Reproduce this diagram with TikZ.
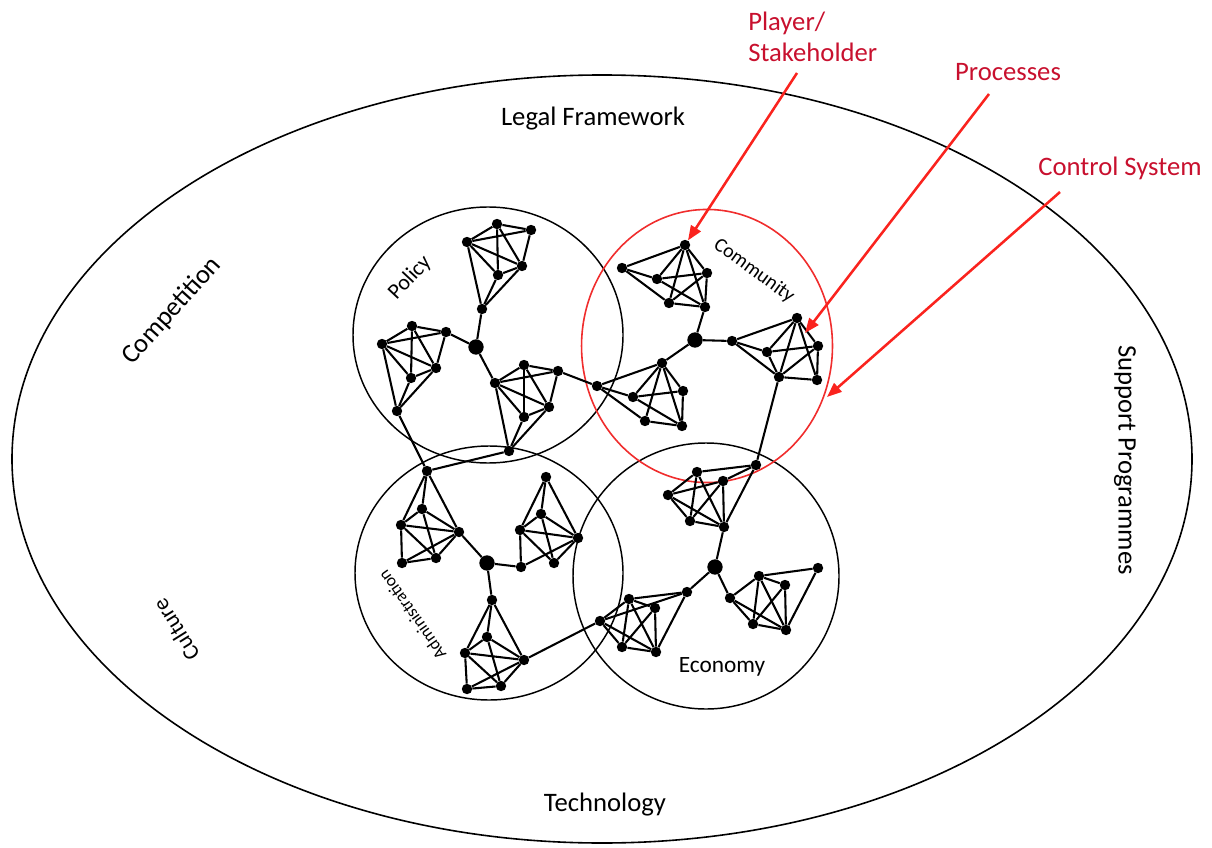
\documentclass[tikz,border=0pt]{standalone}
\usepackage{fontspec}
\setmainfont{Carlito}
\usetikzlibrary{arrows.meta}
\definecolor{lblred}{RGB}{200,16,46}
\definecolor{arrred}{RGB}{250,35,30}
\definecolor{circred}{RGB}{240,45,45}
\tikzset{
  dot/.style={circle,fill=black,inner sep=0pt,minimum size=7.8pt},
  hub/.style={circle,fill=black,inner sep=0pt,minimum size=11.5pt},
  net/.style={line width=1.55pt,black},
  ring/.style={line width=1.1pt,black},
  redring/.style={line width=1.2pt,circred},
  redarrow/.style={line width=1.9pt,arrred,-{Triangle[length=11pt,width=8.5pt]}},
  biglbl/.style={font=\fontsize{20}{23}\selectfont,inner sep=0pt},
  redlbl/.style={font=\fontsize{20}{23}\selectfont,text=lblred,inner sep=0pt},
}
\begin{document}
\begin{tikzpicture}[x=0.75pt,y=-0.75pt]
\useasboundingbox (0,0) rectangle (1212,848);
% outer ellipse and domain circles
\draw[line width=1.2pt] (602,459) ellipse [x radius=442.5pt,y radius=288pt];
\draw[ring] (488,335) ellipse [x radius=101.25pt,y radius=96pt];
\draw[ring] (489,573) ellipse [x radius=100.5pt,y radius=95.25pt];
\draw[ring] (706,576) ellipse [x radius=99.75pt,y radius=99.75pt];
\draw[redring] (707,346) ellipse [x radius=94.1pt,y radius=102.4pt];

% ---------- nodes ----------
% Policy
\node[dot] (A1) at (497,224) {}; \node[dot] (A2) at (531,230) {};
\node[dot] (A3) at (467,242) {}; \node[dot] (A4) at (522,266) {};
\node[dot] (A5) at (498,275) {}; \node[dot] (A6) at (482,309) {};
\node[hub] (P) at (476,347) {};
\node[dot] (B1) at (412,326) {}; \node[dot] (B2) at (446,332) {};
\node[dot] (B3) at (382,344) {}; \node[dot] (B4) at (436,368) {};
\node[dot] (B5) at (411,378) {}; \node[dot] (B6) at (397,411) {};
\node[dot] (C1) at (495,383) {}; \node[dot] (C2) at (524,365) {};
\node[dot] (C3) at (558,371) {}; \node[dot] (C4) at (549,407) {};
\node[dot] (C5) at (524,417) {}; \node[dot] (C6) at (509,451) {};
% Community
\node[dot] (E1) at (685,245) {}; \node[dot] (E2) at (622,268) {};
\node[dot] (E3) at (657,279) {}; \node[dot] (E4) at (707,273) {};
\node[dot] (E5) at (669,303) {}; \node[dot] (E6) at (705,307) {};
\node[hub] (Q) at (695,340) {};
\node[dot] (F1) at (732,341) {}; \node[dot] (F2) at (797,318) {};
\node[dot] (F3) at (767,352) {}; \node[dot] (F4) at (818,346) {};
\node[dot] (F5) at (779,377) {}; \node[dot] (F6) at (817,380) {};
\node[dot] (G1) at (662,363) {}; \node[dot] (G2) at (597,386) {};
\node[dot] (G3) at (633,397) {}; \node[dot] (G4) at (683,391) {};
\node[dot] (G5) at (645,421) {}; \node[dot] (G6) at (682,426) {};
% Administration
\node[dot] (D1) at (427,471) {}; \node[dot] (D2) at (422,509) {};
\node[dot] (D3) at (401,525) {}; \node[dot] (D4) at (459,532) {};
\node[dot] (D5) at (402,563) {}; \node[dot] (D6) at (436,558) {};
\node[hub] (R) at (487,563) {};
\node[dot] (H1) at (546,477) {}; \node[dot] (H2) at (541,514) {};
\node[dot] (H3) at (520,530) {}; \node[dot] (H4) at (578,538) {};
\node[dot] (H5) at (521,567) {}; \node[dot] (H6) at (554,563) {};
\node[dot] (I1) at (492,600) {}; \node[dot] (I2) at (487,637) {};
\node[dot] (I3) at (465,653) {}; \node[dot] (I4) at (524,660) {};
\node[dot] (I5) at (467,689) {}; \node[dot] (I6) at (501,686) {};
% Economy
\node[dot] (J1) at (756,465) {}; \node[dot] (J2) at (697,472) {};
\node[dot] (J3) at (723,481) {}; \node[dot] (J4) at (668,495) {};
\node[dot] (J5) at (690,521) {}; \node[dot] (J6) at (724,527) {};
\node[hub] (S) at (715,567) {};
\node[dot] (K1) at (730,598) {}; \node[dot] (K2) at (759,576) {};
\node[dot] (K3) at (785,585) {}; \node[dot] (K4) at (818,568) {};
\node[dot] (K5) at (753,624) {}; \node[dot] (K6) at (786,630) {};
\node[dot] (L1) at (687,592) {}; \node[dot] (L2) at (629,599) {};
\node[dot] (L3) at (655,608) {}; \node[dot] (L4) at (600,621) {};
\node[dot] (L5) at (622,647) {}; \node[dot] (L6) at (656,652) {};

% ---------- edges ----------
\foreach \a/\b in {
 A3/A1,A1/A2,A3/A2,A2/A4,A1/A4,A1/A5,A3/A4,A3/A5,A5/A4,A3/A6,A4/A6,A5/A6,
 P/A6,P/B2,P/C1,
 B3/B1,B1/B2,B3/B2,B1/B4,B1/B5,B2/B4,B3/B4,B3/B5,B5/B4,B3/B6,B4/B6,B5/B6,
 C1/C2,C2/C3,C1/C3,C2/C4,C2/C5,C3/C4,C1/C4,C1/C5,C5/C4,C1/C6,C4/C6,C5/C6,
 C3/G2,B6/D1,C6/D1,
 E2/E1,E2/E5,E2/E3,E1/E3,E1/E4,E1/E5,E1/E6,E3/E4,E3/E6,E4/E6,E5/E6,E4/E5,
 Q/E6,Q/F1,Q/G1,
 F1/F2,F1/F5,F1/F3,F2/F3,F2/F4,F2/F5,F2/F6,F3/F4,F3/F5,F4/F6,F5/F6,F5/F4,
 F5/J1,
 G2/G1,G2/G3,G2/G5,G1/G3,G1/G4,G1/G5,G1/G6,G3/G4,G3/G6,G4/G6,G5/G6,
 D1/D3,D1/D2,D1/D4,D2/D3,D2/D4,D2/D6,D3/D4,D3/D5,D3/D6,D5/D6,D5/D4,D6/D4,
 R/D4,R/H5,R/I1,
 H1/H3,H1/H2,H1/H4,H2/H3,H2/H4,H2/H6,H3/H4,H3/H5,H3/H6,H5/H4,H6/H4,
 I1/I3,I1/I2,I1/I4,I2/I3,I2/I4,I2/I6,I3/I4,I3/I5,I3/I6,I5/I6,I6/I4,I5/I4,
 I4/L4,
 J2/J1,J3/J1,J2/J4,J2/J5,J2/J6,J4/J3,J4/J5,J4/J6,J3/J5,J3/J6,J5/J6,J1/J6,
 S/J6,S/K1,S/L1,
 K1/K2,K1/K5,K1/K6,K2/K3,K2/K4,K2/K5,K2/K6,K3/K5,K3/K6,K4/K6,K5/K6,
 L1/L2,L1/L4,L1/L6,L2/L4,L2/L3,L2/L5,L2/L6,L3/L5,L3/L6,L4/L5,L4/L6,L5/L6}
 \draw[net] (\a) -- (\b);

% ---------- labels ----------
\node[biglbl] (legal) at (593,119) {Legal Framework};
\node[biglbl] (tech) at (605,805) {Technology};
\node[biglbl,rotate=48] (comp) at (172,311) {Competition};
\node[font=\fontsize{17}{20}\selectfont,inner sep=0pt,rotate=122] (cult) at (176,630) {Culture};
\node[biglbl,rotate=-90] (supp) at (1125,460) {Support Programmes};
\node[font=\fontsize{16.5}{20}\selectfont,inner sep=0pt,rotate=47] (pol) at (410,278) {Policy};
\node[font=\fontsize{15}{18}\selectfont,inner sep=0pt,rotate=-36] (commu) at (754,271) {Community};
\node[font=\fontsize{13}{16}\selectfont,inner sep=0pt,rotate=125] (admin) at (412,615) {Administration};
\node[font=\fontsize{17.5}{21}\selectfont,inner sep=0pt] (econ) at (722,667) {Economy};

\node[redlbl,align=left,anchor=west] (ps) at (748,37) {Player/\\Stakeholder};
\node[redlbl] (proc) at (1008,72) {Processes};
\node[redlbl] (ctrl) at (1120,168) {Control System};

% ---------- red arrows ----------
\coordinate (psS) at (797,73);
\coordinate (prS) at (989,94);
\coordinate (prE) at (805,333);
\coordinate (csS) at (1060,192);
\coordinate (csE) at (827,397);
\draw[redarrow] (psS) -- (E1);
\draw[redarrow] (prS) -- (prE);
\draw[redarrow] (csS) -- (csE);
\end{tikzpicture}
\end{document}
